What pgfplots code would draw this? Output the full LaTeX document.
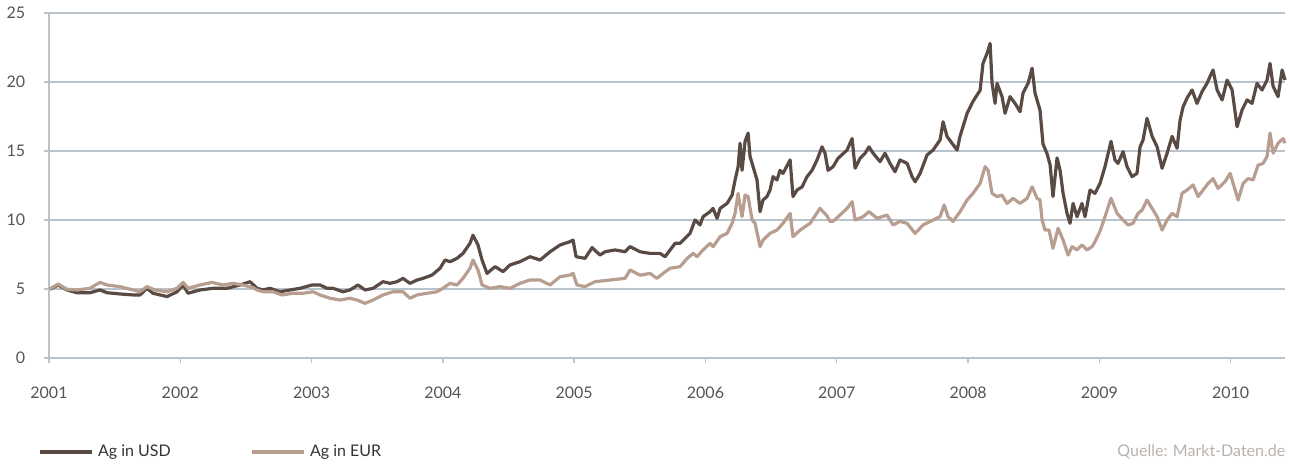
\documentclass[border=0pt]{standalone}
\usepackage{pgfplots}
\usepackage{pgfplotstable}
\pgfplotsset{compat=1.18}
\usepackage{fontspec}
\setmainfont{Lato}
\definecolor{usd}{HTML}{594A44}
\definecolor{eur}{HTML}{B89E90}
\definecolor{gridc}{HTML}{B8C3CB}
\definecolor{tickc}{HTML}{555555}
\definecolor{srcc}{HTML}{B8B2AD}

\pgfplotstableread{
year value
2001.008 4.98
2001.069 5.29
2001.137 4.93
2001.213 4.73
2001.312 4.73
2001.388 4.93
2001.442 4.73
2001.541 4.64
2001.640 4.57
2001.693 4.57
2001.746 5.05
2001.792 4.69
2001.899 4.45
2001.975 4.80
2002.021 5.29
2002.059 4.69
2002.150 4.93
2002.249 5.05
2002.356 5.05
2002.455 5.29
2002.531 5.53
2002.584 5.05
2002.630 4.93
2002.683 5.05
2002.759 4.80
2002.835 4.93
2002.912 5.05
2003.003 5.29
2003.064 5.29
2003.117 5.05
2003.163 5.05
2003.239 4.80
2003.292 4.93
2003.353 5.29
2003.407 4.93
2003.468 5.05
2003.544 5.53
2003.597 5.41
2003.650 5.53
2003.696 5.77
2003.749 5.41
2003.803 5.65
2003.848 5.77
2003.917 6.01
2003.978 6.50
2004.016 7.10
2004.054 6.98
2004.107 7.22
2004.153 7.58
2004.206 8.31
2004.229 8.90
2004.267 8.19
2004.298 7.10
2004.336 6.13
2004.397 6.62
2004.458 6.26
2004.511 6.74
2004.587 6.98
2004.663 7.34
2004.740 7.10
2004.816 7.70
2004.892 8.19
2004.968 8.43
2004.991 8.55
2005.014 7.34
2005.082 7.22
2005.136 8.00
2005.196 7.46
2005.235 7.70
2005.311 7.83
2005.387 7.70
2005.425 8.07
2005.501 7.70
2005.577 7.58
2005.653 7.58
2005.692 7.34
2005.768 8.31
2005.806 8.31
2005.882 9.03
2005.920 10.00
2005.958 9.64
2005.981 10.24
2006.034 10.60
2006.057 10.84
2006.088 10.12
2006.111 10.84
2006.164 11.20
2006.202 11.80
2006.225 12.90
2006.248 13.86
2006.263 15.56
2006.278 13.60
2006.301 15.70
2006.324 16.30
2006.339 14.60
2006.362 13.86
2006.392 12.90
2006.415 10.60
2006.438 11.45
2006.468 11.70
2006.491 12.17
2006.514 13.14
2006.544 12.90
2006.567 13.60
2006.590 13.38
2006.644 14.35
2006.666 11.70
2006.697 12.17
2006.735 12.40
2006.773 13.14
2006.811 13.60
2006.849 14.35
2006.887 15.30
2006.910 14.84
2006.933 13.60
2006.971 13.86
2007.009 14.47
2007.024 14.60
2007.078 15.07
2007.116 15.90
2007.139 13.75
2007.177 14.47
2007.215 14.84
2007.245 15.30
2007.276 14.84
2007.329 14.23
2007.367 14.84
2007.405 14.10
2007.443 13.50
2007.481 14.35
2007.535 14.10
2007.573 13.14
2007.596 12.77
2007.634 13.38
2007.687 14.71
2007.733 15.07
2007.786 15.80
2007.809 17.12
2007.839 16.06
2007.877 15.56
2007.916 15.07
2007.938 16.06
2007.992 17.73
2008.037 18.60
2008.091 19.40
2008.113 21.35
2008.144 22.07
2008.167 22.80
2008.182 19.90
2008.205 18.45
2008.220 19.90
2008.258 18.94
2008.281 17.73
2008.319 18.94
2008.357 18.45
2008.395 17.85
2008.418 19.20
2008.456 19.90
2008.487 21.00
2008.509 19.20
2008.547 17.97
2008.570 15.50
2008.601 14.80
2008.624 14.00
2008.646 11.70
2008.677 14.50
2008.700 13.60
2008.723 11.93
2008.753 10.48
2008.776 9.76
2008.799 11.20
2008.829 10.24
2008.867 11.20
2008.890 10.24
2008.928 12.17
2008.966 11.93
2009.004 12.65
2009.042 13.86
2009.088 15.70
2009.118 14.35
2009.141 14.10
2009.180 14.95
2009.210 13.86
2009.248 13.14
2009.286 13.38
2009.309 15.30
2009.332 15.80
2009.362 17.37
2009.401 16.06
2009.439 15.30
2009.477 13.75
2009.515 14.84
2009.553 16.06
2009.591 15.20
2009.614 17.25
2009.637 18.20
2009.667 18.84
2009.705 19.42
2009.743 18.45
2009.781 19.30
2009.819 19.90
2009.842 20.40
2009.865 20.87
2009.896 19.42
2009.934 18.70
2009.972 20.14
2010.010 19.42
2010.048 16.76
2010.086 17.97
2010.124 18.70
2010.162 18.45
2010.200 19.90
2010.238 19.42
2010.276 20.14
2010.299 21.35
2010.322 19.70
2010.360 18.94
2010.391 20.87
2010.413 20.14
}\usdtable

\pgfplotstableread{
year value
2001.008 5.00
2001.069 5.36
2001.137 4.98
2001.213 4.93
2001.312 5.05
2001.388 5.48
2001.442 5.29
2001.541 5.17
2001.640 4.93
2001.693 4.80
2001.746 5.17
2001.807 4.93
2001.899 4.80
2001.975 5.05
2002.021 5.48
2002.059 5.05
2002.150 5.29
2002.241 5.48
2002.325 5.29
2002.401 5.41
2002.478 5.29
2002.553 5.10
2002.584 4.93
2002.630 4.80
2002.706 4.80
2002.774 4.57
2002.858 4.69
2002.934 4.69
2003.011 4.80
2003.064 4.57
2003.140 4.33
2003.216 4.20
2003.292 4.33
2003.346 4.20
2003.407 3.96
2003.468 4.20
2003.544 4.57
2003.620 4.80
2003.696 4.80
2003.749 4.33
2003.803 4.57
2003.879 4.69
2003.955 4.80
2004.000 5.05
2004.054 5.41
2004.107 5.29
2004.153 5.77
2004.206 6.50
2004.229 7.10
2004.267 6.38
2004.298 5.29
2004.359 5.05
2004.435 5.17
2004.511 5.05
2004.587 5.41
2004.663 5.65
2004.740 5.65
2004.816 5.29
2004.892 5.89
2004.968 6.01
2004.991 6.13
2005.021 5.29
2005.082 5.17
2005.158 5.53
2005.273 5.65
2005.387 5.77
2005.425 6.38
2005.501 6.00
2005.577 6.13
2005.630 5.77
2005.676 6.13
2005.730 6.50
2005.806 6.62
2005.860 7.22
2005.906 7.58
2005.935 7.34
2005.981 7.83
2006.034 8.31
2006.057 8.07
2006.111 8.79
2006.164 9.03
2006.202 9.76
2006.225 10.48
2006.248 11.93
2006.278 10.24
2006.301 11.80
2006.324 11.70
2006.355 10.00
2006.377 9.76
2006.415 8.07
2006.438 8.55
2006.491 9.03
2006.544 9.27
2006.590 9.76
2006.644 10.48
2006.666 8.79
2006.720 9.27
2006.796 9.76
2006.872 10.84
2006.925 10.30
2006.948 9.90
2006.971 9.90
2007.024 10.36
2007.078 10.84
2007.116 11.33
2007.139 10.00
2007.200 10.24
2007.245 10.60
2007.306 10.12
2007.382 10.36
2007.428 9.64
2007.481 9.90
2007.535 9.76
2007.596 9.03
2007.657 9.64
2007.733 10.00
2007.786 10.24
2007.817 11.09
2007.847 10.24
2007.885 9.90
2007.938 10.60
2007.992 11.45
2008.037 11.93
2008.091 12.65
2008.129 13.86
2008.152 13.60
2008.182 11.93
2008.220 11.70
2008.258 11.80
2008.296 11.20
2008.342 11.57
2008.395 11.20
2008.449 11.57
2008.487 12.40
2008.525 11.57
2008.547 11.45
2008.563 10.00
2008.585 9.27
2008.616 9.27
2008.646 7.95
2008.685 9.40
2008.723 8.55
2008.761 7.46
2008.792 8.07
2008.829 7.83
2008.867 8.19
2008.905 7.83
2008.944 8.07
2008.966 8.43
2009.004 9.18
2009.042 10.24
2009.088 11.57
2009.134 10.48
2009.180 10.00
2009.218 9.64
2009.256 9.76
2009.294 10.48
2009.325 10.72
2009.362 11.45
2009.401 10.84
2009.439 10.24
2009.477 9.27
2009.515 10.00
2009.553 10.48
2009.591 10.24
2009.629 11.93
2009.667 12.17
2009.713 12.54
2009.751 11.70
2009.789 12.17
2009.827 12.65
2009.865 13.00
2009.903 12.29
2009.957 12.79
2009.995 13.38
2010.033 12.17
2010.056 11.45
2010.094 12.65
2010.132 13.00
2010.170 12.90
2010.208 13.98
2010.246 14.10
2010.276 14.60
2010.299 16.30
2010.322 14.84
2010.360 15.56
2010.398 15.90
2010.413 15.56
}\eurtable

\begin{document}
\fontsize{8pt}{9.6pt}\selectfont
\begin{tikzpicture}
\begin{axis}[
  scale only axis,
  width=618pt, height=172.5pt,
  xmin=2001, xmax=2010.413,
  ymin=0, ymax=25,
  axis lines=left,
  axis line style={-, draw=gridc, line width=0.7pt},
  xtick={2001,2002,...,2010},
  ytick={0,5,10,15,20,25},
  ymajorgrids,
  grid style={draw=gridc, line width=0.7pt},
  tick align=outside,
  major tick length=2.5pt,
  tick style={draw=gridc, line width=0.7pt},
  /pgf/number format/assume math mode=true,
  xticklabel style={/pgf/number format/1000 sep={}, text=tickc, font=\fontsize{8pt}{9.6pt}\selectfont, yshift=-9pt},
  yticklabel style={text=tickc, font=\fontsize{8pt}{9.6pt}\selectfont, xshift=-6.5pt},
  legend style={
    at={(rel axis cs:-0.0085,-0.2725)}, anchor=west,
    draw=none, fill=none, inner sep=0pt,
    legend columns=2,
    font=\fontsize{8pt}{9.6pt}\selectfont,
    text=black!80,
    /tikz/every even column/.append style={column sep=38pt},
  },
  legend cell align=left,
  legend image code/.code={\draw[#1] (0pt,0pt) -- (26pt,0pt);},
  clip=false,
]
\addplot[usd, line width=1.6pt, line join=round] table[x=year, y=value] {\usdtable};
\addlegendentry{Ag in USD}
\addplot[eur, line width=1.6pt, line join=round] table[x=year, y=value] {\eurtable};
\addlegendentry{Ag in EUR}
\node[anchor=east, text=srcc, font=\fontsize{8pt}{9.6pt}\selectfont, inner sep=0pt] at (rel axis cs:1.0005,-0.2725) {Quelle: Markt-Daten.de};
\coordinate (SW) at (rel axis cs:0,0);
\coordinate (NE) at (rel axis cs:1,1);
\end{axis}
\pgfresetboundingbox
\path[use as bounding box] ([shift={(-24.5pt,-53pt)}]SW) rectangle ([shift={(2.5pt,6.5pt)}]NE);
\end{tikzpicture}
\end{document}
